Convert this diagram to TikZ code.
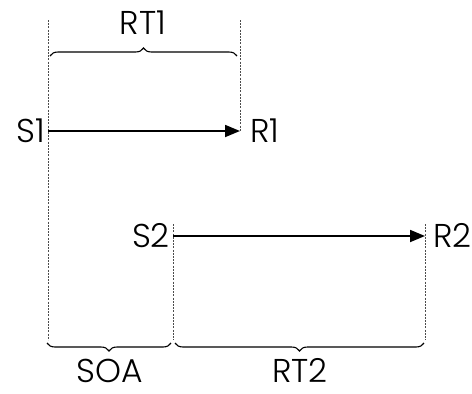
\documentclass[tikz,border=0pt]{standalone}
\usepackage{fontspec}
\setmainfont{Poppins}[UprightFont=* Light]
\usetikzlibrary{decorations.pathreplacing,arrows.meta}
\begin{document}
\begin{tikzpicture}[x=1pt,y=-1pt,
  lbl/.style={font=\fontsize{33}{33}\selectfont, inner sep=0pt, text depth=0pt},
  guide/.style={draw=black!70, line width=0.6pt, dash pattern=on 2pt off 1.2pt},
  stim/.style={line width=1.8pt, -{Triangle[length=15pt,width=12pt]}},
  brc/.style={line width=1.1pt, decorate, decoration={brace, amplitude=8pt}}]
\useasboundingbox (0,0) rectangle (472,394);
% guide coordinates
\coordinate (s1top) at (48,20);
\coordinate (s1bot) at (48,340);
\coordinate (r1top) at (240,20);
\coordinate (r1) at (240,131);
\coordinate (s1) at (48,131);
\coordinate (s2) at (173,236);
\coordinate (s2bot) at (173,340);
\coordinate (r2) at (425,236);
\coordinate (r2top) at (425,224);
\coordinate (r2bot) at (425,340);
\coordinate (s2top) at (173,224);
% guides
\draw[guide] (s1top) -- (s1bot);
\draw[guide] (r1top) -- (r1);
\draw[guide] (s2top) -- (s2bot);
\draw[guide] (r2top) -- (r2bot);
% arrows
\draw[stim] (s1) -- (r1);
\draw[stim] (s2) -- (r2);
% labels
\node[lbl, anchor=base east] (S1) at (45,142) {S1};
\node[lbl, anchor=base west] (R1) at (250,142) {R1};
\node[lbl, anchor=base east] (S2) at (170,247) {S2};
\node[lbl, anchor=base west] (R2) at (433,247) {R2};
% braces
\coordinate (b1a) at (50,56);
\coordinate (b1b) at (237,56);
\draw[brc] (b1a) -- (b1b);
\node[lbl, anchor=base] (RT1) at (143,34) {RT1};
\coordinate (b2a) at (171,343);
\coordinate (b2b) at (47,343);
\draw[brc] (b2a) -- (b2b);
\node[lbl, anchor=base] (SOA) at (110,382) {SOA};
\coordinate (b3a) at (424,343);
\coordinate (b3b) at (175,343);
\draw[brc] (b3a) -- (b3b);
\node[lbl, anchor=base] (RT2) at (300,382) {RT2};
\end{tikzpicture}
\end{document}
